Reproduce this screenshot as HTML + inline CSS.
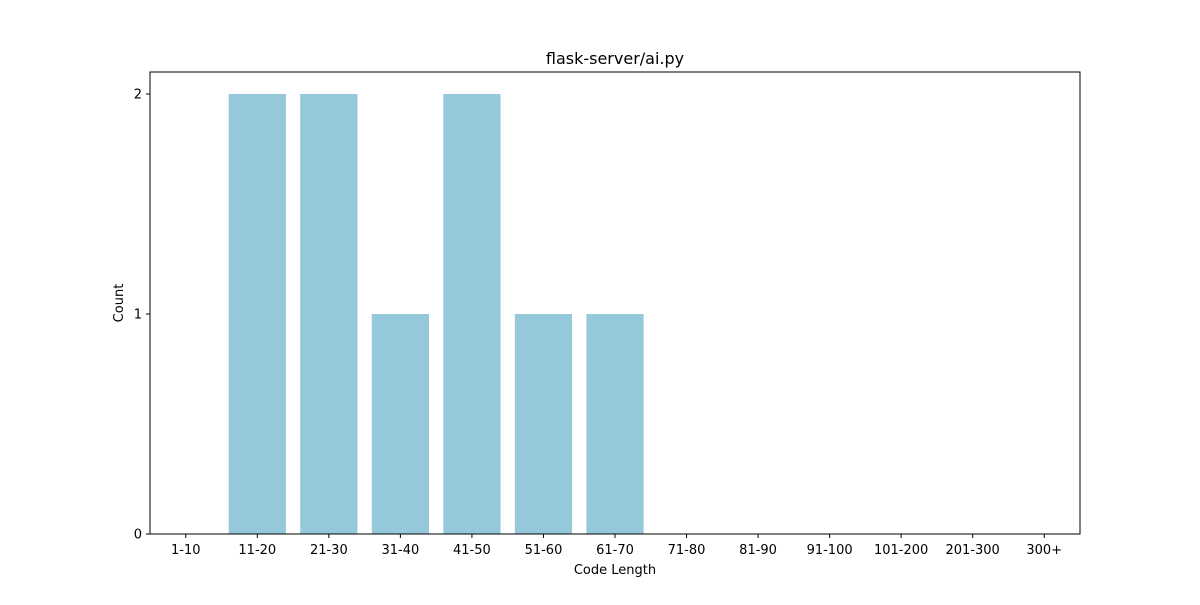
<!DOCTYPE html>
<html><head><meta charset="utf-8"><style>
body{margin:0;background:#fff;}
svg text{font-family:"DejaVu Sans","Liberation Sans",sans-serif;fill:#000;}
</style></head><body>
<svg width="1200" height="600" xmlns="http://www.w3.org/2000/svg">
<rect width="1200" height="600" fill="#fff"/>
<g id="bars"></g>
<g id="axes"></g>
<text x="615" y="64" text-anchor="middle" font-size="16">flask-server/ai.py</text>
<text x="615" y="574" text-anchor="middle" font-size="13">Code Length</text>
<text x="123" y="303" text-anchor="middle" font-size="13" transform="rotate(-90 123 303)">Count</text>
</svg>
<script>
const categories=["1-10","11-20","21-30","31-40","41-50","51-60","61-70","71-80","81-90","91-100","101-200","201-300","300+"];
const counts=[0,2,2,1,2,1,1,0,0,0,0,0,0];
const yTicks=[0,1,2];
const L=150,R=1080,T=72,B=534,yMax=2.1;
const ns="http://www.w3.org/2000/svg";
const step=(R-L)/categories.length;
const x=i=>L+step*(i+0.5);
const y=v=>B-(B-T)*v/yMax;
const bars=document.getElementById('bars'),axes=document.getElementById('axes');
function mk(tag,a,p){const e=document.createElementNS(ns,tag);for(const k in a)e.setAttribute(k,a[k]);p.appendChild(e);return e;}
counts.forEach((v,i)=>{if(v<=0)return;const w=step*0.8;
const r=mk('rect',{x:x(i)-w/2,y:y(v),width:w,height:B-y(v),fill:'#96c8dc'},bars);

});
const f=mk('rect',{x:L,y:T,width:R-L,height:B-T,fill:'none',stroke:'#000','stroke-width':1},axes);


categories.forEach((c,i)=>{mk('line',{x1:x(i),x2:x(i),y1:B,y2:B+4,stroke:'#000'},axes);
const t=mk('text',{x:x(i),y:B+20,'text-anchor':'middle','font-size':13},axes);t.textContent=c;

});
yTicks.forEach(v=>{mk('line',{x1:L-4,x2:L,y1:y(v),y2:y(v),stroke:'#000'},axes);
const t=mk('text',{x:L-8,y:y(v)+4.5,'text-anchor':'end','font-size':13},axes);t.textContent=v;

});
</script>
</body></html>
